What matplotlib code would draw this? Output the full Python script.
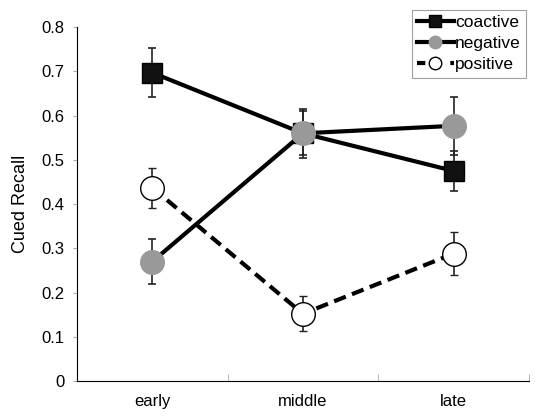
import numpy as np
import matplotlib.pyplot as plt
from matplotlib.lines import Line2D

plt.rcParams['font.family'] = ['Liberation Sans', 'DejaVu Sans']

# Data
stages = ['early', 'middle', 'late']
coactive = [0.697, 0.560, 0.475]
coactive_err = [0.055, 0.050, 0.045]
negative = [0.270, 0.560, 0.577]
negative_err = [0.050, 0.055, 0.065]
positive = [0.437, 0.152, 0.288]
positive_err = [0.045, 0.040, 0.048]

x = np.arange(len(stages))

fig = plt.figure(figsize=(5.36, 4.18), dpi=100)
ax = fig.add_axes([0.1437, 0.0885, 0.843, 0.8465])

err_kw = dict(ecolor='#222222', elinewidth=1.2, capsize=3, capthick=1.2, zorder=3)
ax.errorbar(x, coactive, yerr=coactive_err, color='black', lw=3, marker='s',
            markersize=15, markerfacecolor='#111111', markeredgecolor='black',
            **err_kw)
ax.errorbar(x, negative, yerr=negative_err, color='black', lw=3, marker='o',
            markersize=17, markerfacecolor='#999999', markeredgecolor='#999999',
            **err_kw)
ax.errorbar(x, positive, yerr=positive_err, color='black', lw=3, ls=(0, (3, 1.6)),
            marker='o', markersize=17, markerfacecolor='white',
            markeredgecolor='black', markeredgewidth=1, **err_kw)

ax.set_xlim(-0.5, 2.5)
ax.set_ylim(0, 0.8)
ax.set_yticks(np.arange(0, 0.81, 0.1))
ax.set_yticklabels(['0'] + ['%.1f' % v for v in np.arange(0.1, 0.81, 0.1)])
ax.set_xticks(x)
ax.set_xticklabels(stages)
ax.set_xticks([0.5, 1.5, 2.5], minor=True)
ax.tick_params(axis='x', which='major', length=0, labelsize=12, pad=9)
ax.tick_params(axis='x', which='minor', length=5, direction='in', color='#aaaaaa')
ax.tick_params(axis='y', length=3, color='#aaaaaa', labelsize=12, pad=6)
ax.set_ylabel('Cued Recall', fontsize=13, labelpad=9)

for s in ['top', 'right']:
    ax.spines[s].set_visible(False)

handles = [
    Line2D([], [], color='black', lw=3, marker='s', markersize=8,
           markerfacecolor='#111111', markeredgecolor='black'),
    Line2D([], [], color='black', lw=3, marker='o', markersize=9,
           markerfacecolor='#999999', markeredgecolor='#999999'),
    Line2D([], [], color='black', lw=3, ls=(0, (2, 2)), marker='o', markersize=9,
           markerfacecolor='white', markeredgecolor='black', markeredgewidth=1),
]
leg = fig.legend(handles, ['coactive', 'negative', 'positive'],
                 loc='upper right', bbox_to_anchor=(0.998, 0.998), fontsize=12.5,
                 handlelength=2.1, handletextpad=0.1, borderpad=0.3,
                 labelspacing=0.35, fancybox=False, frameon=True)
leg.get_frame().set_edgecolor('#888888')
leg.get_frame().set_linewidth(0.8)

fig.savefig('out.png', dpi=100)
